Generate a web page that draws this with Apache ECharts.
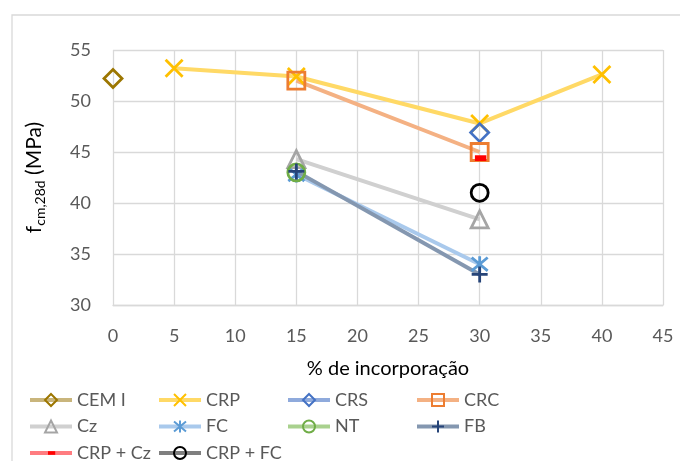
<!DOCTYPE html>
<html>
<head>
<meta charset="utf-8">
<script src="https://cdn.jsdelivr.net/npm/echarts@6/dist/echarts.min.js"></script>
<style>
  html, body { margin: 0; padding: 0; background: #fff; }
  #chart { width: 680px; height: 461px; }
</style>
</head>
<body>
<div id="chart"></div>
<script>
// Compressive strength at 28 days vs. replacement level, per admixture
const seriesNames = ['CEM I', 'CRP', 'CRS', 'CRC', 'Cz', 'FC', 'NT', 'FB', 'CRP + Cz', 'CRP + FC'];

const xCEMI = [0];       const yCEMI = [52.2];
const xCRP = [5, 15, 30, 40]; const yCRP = [53.2, 52.4, 47.8, 52.6];
const xCRS = [30];       const yCRS = [46.9];
const xCRC = [15, 30];   const yCRC = [52.0, 45.0];
const xCz = [15, 30];    const yCz = [44.3, 38.4];
const xFC = [15, 30];    const yFC = [42.8, 34.0];
const xNT = [15];        const yNT = [43.0];
const xFB = [15, 30];    const yFB = [43.1, 33.0];
const xCRPCz = [30];     const yCRPCz = [44.4];
const xCRPFC = [30];     const yCRPFC = [41.0];

const xTicks = [0, 5, 10, 15, 20, 25, 30, 35, 40, 45];
const yTicks = [30, 35, 40, 45, 50, 55];

const pairs = (xs, ys) => xs.map((x, i) => [x, ys[i]]);

// Marker outlines drawn as open paths
const SYM_X = 'path://M0,0L10,10M10,0L0,10';
const SYM_STAR = 'path://M0,0L10,10M10,0L0,10M5,-1L5,11';
const SYM_PLUS = 'path://M5,0L5,10M0,5L10,5';
// Short dash; the leading moves pad the box so the dash stays small
const SYM_DASH = 'path://M0,0M20,20M5,7L17,7L17,13L5,13Z';

function lineSeries(name, data, lineColor, markColor, symbol, size, opts) {
  opts = opts || {};
  const filled = opts.filled;
  return {
    name: name,
    type: 'line',
    data: data,
    symbol: symbol,
    symbolSize: size,
    showAllSymbol: true,
    lineStyle: { color: lineColor, width: 4 },
    itemStyle: filled
      ? { color: markColor, borderWidth: 0 }
      : { color: 'none', borderColor: markColor, borderWidth: 2.8 },
    emphasis: { disabled: true },
    z: 2
  };
}

const series = [
  lineSeries('CEM I', pairs(xCEMI, yCEMI), '#C9B57C', '#9C7600', 'diamond', 18),
  lineSeries('CRP', pairs(xCRP, yCRP), '#FFD966', '#FFC000', SYM_X, 17),
  lineSeries('CRS', pairs(xCRS, yCRS), '#8FAADC', '#4472C4', 'diamond', 18),
  lineSeries('CRC', pairs(xCRC, yCRC), '#F4B183', '#ED7D31', 'rect', 17),
  lineSeries('Cz', pairs(xCz, yCz), '#D0D0D0', '#A5A5A5', 'triangle', 17),
  lineSeries('FC', pairs(xFC, yFC), '#A9C9EC', '#5B9BD5', SYM_STAR, 16),
  lineSeries('NT', pairs(xNT, yNT), '#A9D18E', '#70AD47', 'circle', 17),
  lineSeries('FB', pairs(xFB, yFB), '#8497B0', '#264478', SYM_PLUS, 16),
  lineSeries('CRP + Cz', pairs(xCRPCz, yCRPCz), '#FF7C80', '#FF0000', SYM_DASH, 19, { filled: true }),
  lineSeries('CRP + FC', pairs(xCRPFC, yCRPFC), '#7F7F7F', '#000000', 'circle', 17)
];

const FONT = 'Lato, "Open Sans", sans-serif';

// One legend entry per box, laid out in a 4-column grid
const legends = seriesNames.map((name, i) => ({
  data: [name],
  left: 28 + (i % 4) * 129,
  top: 391 + Math.floor(i / 4) * 26.5,
  orient: 'horizontal',
  itemWidth: 42,
  itemHeight: 15,
  itemGap: 0,
  padding: 0,
  lineStyle: { width: 4 },
  textStyle: { fontFamily: FONT, fontSize: 18, color: '#595959' }
}));

const chart = echarts.init(document.getElementById('chart'), null, { renderer: 'canvas' });

chart.setOption({
  animation: false,
  backgroundColor: '#ffffff',
  graphic: [{
    type: 'rect',
    shape: { x: 12, y: 15, width: 720, height: 520 },
    style: { fill: 'none', stroke: '#D9D9D9', lineWidth: 1.3 },
    silent: true,
    z: -10
  }],
  grid: { left: 113, right: 17, top: 50, bottom: 156, containLabel: false },
  xAxis: {
    type: 'value',
    min: xTicks[0],
    max: xTicks[xTicks.length - 1],
    interval: 5,
    name: '% de incorporação',
    nameLocation: 'middle',
    nameGap: 54,
    nameTextStyle: { fontFamily: FONT, fontSize: 20, color: '#000000' },
    axisLine: { show: true, lineStyle: { color: '#D9D9D9', width: 1.3 } },
    axisTick: { show: false },
    axisLabel: { fontFamily: FONT, fontSize: 18, color: '#595959', margin: 22 },
    splitLine: { show: true, lineStyle: { color: '#D9D9D9', width: 1.3 } }
  },
  yAxis: {
    type: 'value',
    min: yTicks[0],
    max: yTicks[yTicks.length - 1],
    interval: 5,
    name: '{f|f}{sub|cm,28d}{f| (MPa)}',
    nameLocation: 'middle',
    nameRotate: 90,
    nameGap: 66,
    nameTextStyle: {
      fontFamily: FONT,
      color: '#000000',
      rich: {
        f: { fontFamily: FONT, fontSize: 21, color: '#000000', lineHeight: 26, verticalAlign: 'middle' },
        sub: { fontFamily: FONT, fontSize: 14, color: '#000000', lineHeight: 26, verticalAlign: 'bottom', padding: [10, 0, 0, 0] }
      }
    },
    axisLine: { show: false },
    axisTick: { show: false },
    axisLabel: { fontFamily: FONT, fontSize: 18, color: '#595959', margin: 22 },
    splitLine: { show: true, lineStyle: { color: '#D9D9D9', width: 1.3 } }
  },
  legend: legends,
  series: series
});
</script>
</body>
</html>
